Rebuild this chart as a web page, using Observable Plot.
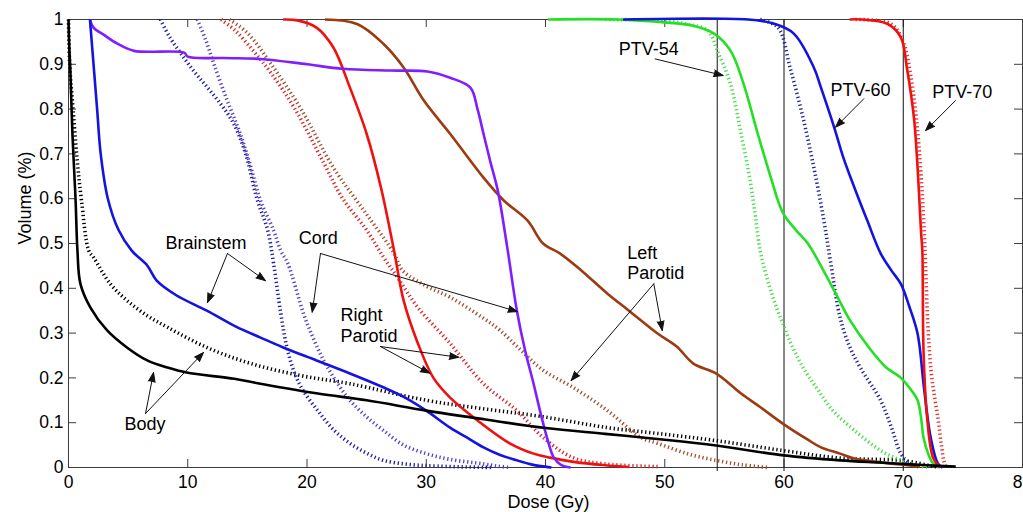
<!DOCTYPE html>
<html>
<head>
<meta charset="utf-8">
<script src="https://cdn.jsdelivr.net/npm/d3@7"></script>
<script src="https://cdn.jsdelivr.net/npm/@observablehq/plot@0.6"></script>
<style>
  html, body { margin: 0; padding: 0; background: #fff; }
</style>
</head>
<body>
<div id="chart"></div>
<script>
// Cumulative dose-volume histograms: [dose (Gy), volume fraction]
// Solid lines = plan A, dotted lines = plan B.
const bodySolid = [[0,1],[0.05,0.95],[0.15,0.89],[0.33,0.745],[0.59,0.6],[0.75,0.484],[1.0,0.41],[1.84,0.357],[3.24,0.306],[4.9,0.268],[6.6,0.239],[8.3,0.223],[9.9,0.212],[13.9,0.198],[16.1,0.187],[20.9,0.165],[25,0.15],[30,0.127],[35,0.107],[40,0.088],[45,0.075],[50,0.062],[54.3,0.049],[60,0.027],[64.7,0.016],[68,0.011],[70,0.008],[72,0.005],[74.4,0.002]];
const bodyDotted = [[0,1],[0.1,0.9],[0.39,0.797],[0.73,0.685],[1.09,0.596],[1.7,0.484],[2.1,0.469],[3.5,0.41],[4.9,0.373],[6.6,0.339],[8.3,0.313],[11.6,0.268],[15.3,0.232],[19.5,0.205],[23.6,0.187],[30,0.15],[34.8,0.131],[39.6,0.114],[45.2,0.089],[49.4,0.076],[54.3,0.06],[59.9,0.038],[64.7,0.021],[69.8,0.016],[71.4,0.009],[72.3,0.004],[73,0.001]];

const brainstemSolid = [[1.8,1],[2.1,0.9],[2.4,0.8],[2.7,0.7],[3.3,0.6],[4.2,0.53],[5.3,0.484],[6.6,0.451],[7.4,0.417],[9,0.385],[11.6,0.35],[14,0.315],[16.1,0.29],[18,0.268],[20.8,0.239],[23.6,0.21],[26.4,0.179],[28.3,0.155],[30,0.127],[32,0.089],[33.4,0.067],[34.8,0.045],[36.2,0.028],[37.6,0.016],[38.8,0.007],[39.6,0.003],[40.5,0]];
const brainstemDotted = [[7.7,1],[8.5,0.96],[9.4,0.925],[10.5,0.885],[11.6,0.85],[12.8,0.81],[13.8,0.77],[14.8,0.705],[15.8,0.6],[16.7,0.53],[17.2,0.455],[17.8,0.344],[18.3,0.27],[18.9,0.215],[19.6,0.175],[20.9,0.127],[22.2,0.085],[23.6,0.054],[25,0.032],[26.4,0.016],[28.5,0.007],[31,0.003],[35.5,0]];

const cordSolid = [[1.8,1],[2.1,0.982],[3,0.965],[4.1,0.946],[5.5,0.93],[9.7,0.926],[10,0.917],[13,0.914],[16.1,0.912],[20,0.9],[23,0.89],[27,0.886],[30.1,0.884],[32,0.87],[33.7,0.848],[34.3,0.8],[34.8,0.745],[35.4,0.68],[36,0.618],[36.8,0.49],[37.6,0.35],[38.3,0.26],[39,0.187],[39.6,0.12],[40.2,0.06],[40.7,0.022],[41.3,0.006],[42.1,0]];
const cordDotted = [[10.8,1],[11.5,0.955],[12.2,0.9],[13.3,0.82],[14.4,0.745],[15.3,0.67],[16.1,0.596],[17.2,0.529],[17.8,0.484],[18.4,0.455],[19.7,0.344],[20.5,0.29],[21.4,0.239],[22.5,0.19],[23.6,0.15],[25,0.113],[26.4,0.083],[28.1,0.05],[30,0.031],[32,0.018],[34.8,0.008],[36,0.003],[37,0]];

const rightParotidSolid = [[18,1],[19.2,0.998],[20.8,0.982],[22.2,0.938],[23.6,0.848],[25,0.745],[26.2,0.625],[27.3,0.484],[28.1,0.373],[29.3,0.277],[30.6,0.2],[32,0.156],[34.3,0.105],[37,0.054],[39,0.031],[40.4,0.022],[42.5,0.012],[45,0.005],[47,0.001]];
const rightParotidDotted = [[12.8,1],[14,0.975],[15.5,0.93],[17,0.88],[19,0.8],[21.4,0.68],[23,0.6],[25,0.53],[26.4,0.47],[27.6,0.424],[29.3,0.357],[32,0.277],[34.8,0.187],[37.6,0.127],[39.8,0.067],[42.3,0.022],[45,0.008],[49.4,0.002]];

const leftParotidSolid = [[21.5,1],[24.2,0.99],[26.4,0.946],[28.1,0.893],[29.8,0.819],[32,0.745],[34.8,0.647],[36.5,0.596],[38.5,0.551],[39.8,0.5],[41.2,0.478],[43,0.44],[45.2,0.388],[47,0.35],[49.4,0.299],[51,0.27],[52.4,0.232],[54.3,0.21],[56.4,0.165],[58,0.135],[59.9,0.098],[62,0.062],[63.1,0.045],[64.7,0.031],[65.9,0.02],[68,0.012],[70,0.006],[71.4,0.002]];
const leftParotidDotted = [[13.5,1],[15,0.97],[17,0.9],[19.5,0.8],[22.2,0.67],[25,0.565],[27.3,0.478],[28,0.44],[30,0.405],[32,0.38],[34.8,0.333],[36.2,0.306],[38,0.26],[39.8,0.217],[42.3,0.179],[45.2,0.127],[48,0.067],[49.4,0.054],[52,0.03],[54.3,0.016],[56.5,0.006],[58.6,0]];

const ptv54Solid = [[40.2,1],[46,1],[50.2,0.993],[52.2,0.987],[54.1,0.969],[55.5,0.931],[56.6,0.857],[57.8,0.745],[58.9,0.647],[59.9,0.569],[61,0.53],[62,0.5],[63.3,0.44],[64.5,0.38],[65.5,0.33],[67.2,0.265],[68.5,0.225],[69.8,0.2],[70.6,0.175],[71.2,0.15],[71.5,0.11],[71.7,0.067],[72.1,0.03],[72.5,0.009],[73,0]];
const ptv54Dotted = [[45,1],[50,0.997],[51.6,0.991],[53.6,0.975],[54.4,0.931],[55.5,0.857],[56.4,0.745],[57.2,0.634],[57.6,0.56],[58,0.484],[58.5,0.43],[59.2,0.37],[59.9,0.321],[60.7,0.27],[61.6,0.223],[62.8,0.175],[64.1,0.127],[65.9,0.083],[68.1,0.038],[69.8,0.016],[71,0.006],[72,0]];

const ptv60Solid = [[46.5,1],[57,1],[59.1,0.991],[60.8,0.969],[62.5,0.893],[63.1,0.848],[64.2,0.76],[65,0.69],[65.9,0.625],[67,0.55],[68.1,0.478],[69,0.44],[69.8,0.41],[70.5,0.36],[71.2,0.299],[71.7,0.187],[72,0.12],[72.3,0.067],[72.9,0.009],[73.3,0]];
const ptv60Dotted = [[58,1],[59.5,0.982],[60.5,0.893],[61.6,0.78],[62.5,0.67],[63.3,0.558],[63.9,0.46],[64.7,0.335],[65.5,0.27],[66.4,0.223],[68.1,0.15],[69,0.09],[69.8,0.031],[70.5,0.01],[71.5,0]];

const ptv70Solid = [[65.5,1],[66.5,1],[68.7,0.99],[69.8,0.96],[70.3,0.893],[70.9,0.78],[71.2,0.67],[71.5,0.522],[71.6,0.484],[71.7,0.26],[72,0.112],[72.5,0.022],[73.1,0]];
const ptv70Dotted = [[66,1],[69,0.99],[70,0.95],[70.6,0.88],[71.1,0.78],[71.5,0.65],[71.8,0.5],[72.1,0.3],[72.4,0.2],[72.9,0.112],[73.2,0.05],[73.4,0.015],[73.6,0]];

// Prescription reference doses (Gy)
const prescriptionDoses = [54.4, 60, 70];

// Tick values
const xTicks = [0, 10, 20, 30, 40, 50, 60, 70, 80];
const yTicks = [0, 0.1, 0.2, 0.3, 0.4, 0.5, 0.6, 0.7, 0.8, 0.9, 1];

// Structure labels (x = dose of left edge, y = volume of last baseline)
const labels = [
  {text: "Brainstem", x: 8.13, y: 0.487},
  {text: "Body", x: 4.7, y: 0.083},
  {text: "Cord", x: 19.3, y: 0.4985},
  {text: "Right\nParotid", x: 22.8, y: 0.28},
  {text: "Left\nParotid", x: 46.85, y: 0.42},
  {text: "PTV-54", x: 46.15, y: 0.92},
  {text: "PTV-60", x: 63.9, y: 0.83},
  {text: "PTV-70", x: 72.43, y: 0.825}
];

// Pointers from each label to its curves
const pointers = [
  {x1: 13.33, y1: 0.4777, x2: 11.66, y2: 0.368},
  {x1: 13.33, y1: 0.4777, x2: 16.52, y2: 0.417},
  {x1: 6.46, y1: 0.1205, x2: 7.13, y2: 0.212},
  {x1: 6.46, y1: 0.1205, x2: 11.32, y2: 0.2567},
  {x1: 21.13, y1: 0.4777, x2: 20.44, y2: 0.3467},
  {x1: 21.13, y1: 0.4777, x2: 37.65, y2: 0.348},
  {x1: 26.16, y1: 0.27, x2: 32.73, y2: 0.246},
  {x1: 26.16, y1: 0.27, x2: 30.3, y2: 0.2105},
  {x1: 49.08, y1: 0.41, x2: 49.79, y2: 0.3058},
  {x1: 49.08, y1: 0.41, x2: 42.15, y2: 0.194},
  {x1: 49.2, y1: 0.912, x2: 54.9, y2: 0.875},
  {x1: 66.69, y1: 0.823, x2: 64.32, y2: 0.7596},
  {x1: 74.38, y1: 0.819, x2: 71.87, y2: 0.752}
];

// Line styling per curve
const curves = [
  {pts: bodyDotted, color: "#000000", dotted: true},
  {pts: brainstemDotted, color: "#1f1fa8", dotted: true},
  {pts: cordDotted, color: "#5b3ec8", dotted: true},
  {pts: leftParotidDotted, color: "#a3502e", dotted: true},
  {pts: rightParotidDotted, color: "#d42a2a", dotted: true},
  {pts: ptv54Dotted, color: "#4fdc4f", dotted: true},
  {pts: ptv60Dotted, color: "#24249e", dotted: true},
  {pts: ptv70Dotted, color: "#e43434", dotted: true},
  {pts: ptv54Solid, color: "#22e022", dotted: false},
  {pts: ptv60Solid, color: "#1414e0", dotted: false},
  {pts: ptv70Solid, color: "#f01010", dotted: false},
  {pts: leftParotidSolid, color: "#9c3a10", dotted: false},
  {pts: rightParotidSolid, color: "#f01010", dotted: false},
  {pts: cordSolid, color: "#7f1fff", dotted: false},
  {pts: brainstemSolid, color: "#1414e0", dotted: false},
  {pts: bodySolid, color: "#000000", dotted: false}
];

const font = "'Liberation Sans', Arial, Helvetica, sans-serif";

const lineMarks = curves.map(c => Plot.line(c.pts, {
  x: d => d[0],
  y: d => d[1],
  stroke: c.color,
  strokeWidth: c.dotted ? 3.6 : 2.6,
  strokeDasharray: c.dotted ? "1.3,2.7" : null,
  strokeLinecap: "butt",
  curve: "catmull-rom"
}));

const chart = Plot.plot({
  width: 1023,
  height: 512,
  marginLeft: 68,
  marginRight: 1,
  marginTop: 19,
  marginBottom: 45,
  style: {fontFamily: font, fontSize: "17.5px", color: "#000", background: "#fff"},
  x: {domain: [0, 80], ticks: xTicks, tickFormat: d => String(d)},
  y: {domain: [0, 1], ticks: yTicks, tickFormat: d => String(d)},
  marks: [
    Plot.frame({stroke: "#3c3c3c", strokeWidth: 1}),
    // inward tick marks on all four sides
    Plot.ruleX(xTicks, {x: d => d, insetTop: 440, stroke: "#3c3c3c"}),
    Plot.ruleX(xTicks, {x: d => d, insetBottom: 440, stroke: "#3c3c3c"}),
    Plot.ruleY(yTicks, {y: d => d, insetRight: 946, stroke: "#3c3c3c"}),
    Plot.ruleY(yTicks, {y: d => d, insetLeft: 946, stroke: "#3c3c3c"}),
    Plot.axisX({ticks: xTicks, tickSize: 0, tickPadding: 8, label: null, tickFormat: d => String(d)}),
    Plot.axisY({ticks: yTicks, tickSize: 0, tickPadding: 5, label: null, tickFormat: d => String(d)}),
    Plot.text(["Dose (Gy)"], {text: d => d, frameAnchor: "bottom", dy: 40, dx: 3, lineAnchor: "bottom", fontSize: 18}),
    Plot.text(["Volume (%)"], {text: d => d, frameAnchor: "left", dx: -38, dy: 1, rotate: -90, lineAnchor: "bottom", fontSize: 18}),
    Plot.ruleX(prescriptionDoses, {x: d => d, stroke: "#111", strokeWidth: 1, insetBottom: -4}),
    ...lineMarks,
    Plot.arrow(pointers, {x1: "x1", y1: "y1", x2: "x2", y2: "y2", stroke: "#111", fill: "#111", strokeWidth: 1, headLength: 15, headAngle: 40}),
    Plot.text(labels, {x: "x", y: "y", text: "text", textAnchor: "start", lineAnchor: "bottom", lineHeight: 1.15, fontSize: 18, fill: "#000"})
  ]
});

document.getElementById("chart").appendChild(chart);
</script>
</body>
</html>
